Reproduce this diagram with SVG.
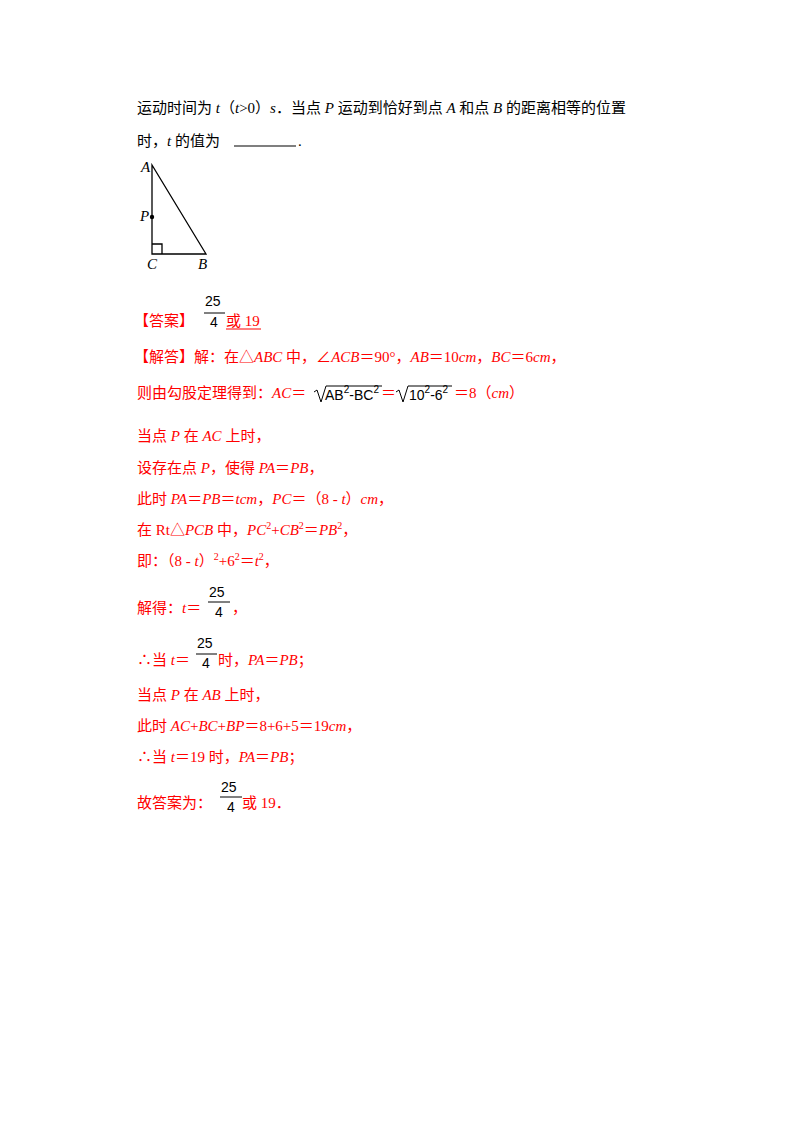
<svg xmlns="http://www.w3.org/2000/svg" width="800" height="1132" viewBox="0 0 800 1132">
<style>
text{font-family:"Liberation Serif","Noto Sans CJK SC",serif;font-size:15px;fill:#000}
.r{fill:#f00}
.i{font-style:italic}
.f{font-family:"Liberation Sans","Noto Sans CJK SC",sans-serif;fill:#000;font-size:14px}
.s{font-size:10px}
</style>
<rect width="800" height="1132" fill="#fff"/>
<text x="137" y="113">运动时间为 <tspan class="i">t</tspan>（<tspan class="i">t</tspan>&gt;0）<tspan class="i">s</tspan>．当点 <tspan class="i">P</tspan> 运动到恰好到点 <tspan class="i">A</tspan> 和点 <tspan class="i">B</tspan> 的距离相等的位置</text>
<text x="137" y="146">时，<tspan class="i">t</tspan> 的值为 </text>
<line x1="234" y1="146" x2="296" y2="146" stroke="#000" stroke-width="1.2"/>
<text x="298" y="146">.</text>
<g id="triangle" fill="none" stroke="#000" stroke-width="1.3">
<polygon points="152,165 152,254 206,254"/>
<polyline points="152,244 162,244 162,254"/>
</g>
<circle cx="152" cy="217" r="2.2"/>
<text class="i" x="141" y="172" font-size="13">A</text>
<text class="i" x="140" y="221" font-size="13">P</text>
<text class="i" x="147" y="269" font-size="13">C</text>
<text class="i" x="198" y="269" font-size="13">B</text>

<g class="r">
<text class="r" x="134" y="326">【答案】</text>
<text class="f" x="205" y="306">25</text><line x1="204" y1="313" x2="225" y2="313" stroke="#000"/><text class="f" x="210" y="327">4</text>
<text class="r" x="226" y="326">或 19</text><line x1="226" y1="329" x2="261" y2="329" stroke="#f00"/>
<text class="r" x="134" y="362">【解答】解：在△<tspan class="i">ABC</tspan> 中，∠<tspan class="i">ACB</tspan>＝90°，<tspan class="i">AB</tspan>＝10<tspan class="i">cm</tspan>，<tspan class="i">BC</tspan>＝6<tspan class="i">cm</tspan>，</text>
<text class="r" x="137" y="398">则由勾股定理得到：<tspan class="i">AC</tspan>＝</text>
<path d="M314,392 l3,-2 4,12 5,-16 h56 M375,392 l0,0" fill="none" stroke="#000" stroke-width="1"/>
<text class="f" x="325" y="400">AB<tspan class="s" dy="-7">2</tspan><tspan dy="7">-BC</tspan><tspan class="s" dy="-7">2</tspan></text>
<text class="r" x="381" y="398">＝</text>
<path d="M396,392 l3,-2 4,12 5,-16 h44" fill="none" stroke="#000" stroke-width="1"/>
<text class="f" x="409" y="400">10<tspan class="s" dy="-7">2</tspan><tspan dy="7">-6</tspan><tspan class="s" dy="-7">2</tspan></text>
<text class="r" x="454" y="398">＝8（<tspan class="i">cm</tspan>）</text>

<text class="r" x="137" y="441">当点 <tspan class="i">P</tspan> 在 <tspan class="i">AC</tspan> 上时，</text>
<text class="r" x="137" y="473">设存在点 <tspan class="i">P</tspan>，使得 <tspan class="i">PA</tspan>＝<tspan class="i">PB</tspan>，</text>
<text class="r" x="137" y="504">此时 <tspan class="i">PA</tspan>＝<tspan class="i">PB</tspan>＝<tspan class="i">tcm</tspan>，<tspan class="i">PC</tspan>＝（8 - <tspan class="i">t</tspan>）<tspan class="i">cm</tspan>，</text>
<text class="r" x="137" y="535">在 Rt△<tspan class="i">PCB</tspan> 中，<tspan class="i">PC</tspan><tspan class="s" dy="-6">2</tspan><tspan dy="6">+</tspan><tspan class="i">CB</tspan><tspan class="s" dy="-6">2</tspan><tspan dy="6">＝</tspan><tspan class="i">PB</tspan><tspan class="s" dy="-6">2</tspan><tspan dy="6">，</tspan></text>
<text class="r" x="137" y="566">即：（8 - <tspan class="i">t</tspan>）<tspan class="s" dy="-6">2</tspan><tspan dy="6">+6</tspan><tspan class="s" dy="-6">2</tspan><tspan dy="6">＝</tspan><tspan class="i">t</tspan><tspan class="s" dy="-6">2</tspan><tspan dy="6">，</tspan></text>
<text class="r" x="137" y="613">解得：<tspan class="i">t</tspan>＝</text>
<text class="f" x="209" y="597">25</text><line x1="208" y1="602" x2="230" y2="602" stroke="#000"/><text class="f" x="215" y="617">4</text>
<text class="r" x="232" y="613">，</text>
<text class="r" x="137" y="665">∴当 <tspan class="i">t</tspan>＝</text>
<text class="f" x="197" y="648">25</text><line x1="196" y1="654" x2="217" y2="654" stroke="#000"/><text class="f" x="202" y="668">4</text>
<text class="r" x="218" y="665">时，<tspan class="i">PA</tspan>＝<tspan class="i">PB</tspan>；</text>
<text class="r" x="137" y="700">当点 <tspan class="i">P</tspan> 在 <tspan class="i">AB</tspan> 上时，</text>
<text class="r" x="137" y="731">此时 <tspan class="i">AC</tspan>+<tspan class="i">BC</tspan>+<tspan class="i">BP</tspan>＝8+6+5＝19<tspan class="i">cm</tspan>，</text>
<text class="r" x="137" y="762">∴当 <tspan class="i">t</tspan>＝19 时，<tspan class="i">PA</tspan>＝<tspan class="i">PB</tspan>；</text>
<text class="r" x="137" y="808">故答案为：</text>
<text class="f" x="221" y="792">25</text><line x1="220" y1="797" x2="242" y2="797" stroke="#000"/><text class="f" x="227" y="812">4</text>
<text class="r" x="242" y="808">或 19．</text>
</g>
</svg>
